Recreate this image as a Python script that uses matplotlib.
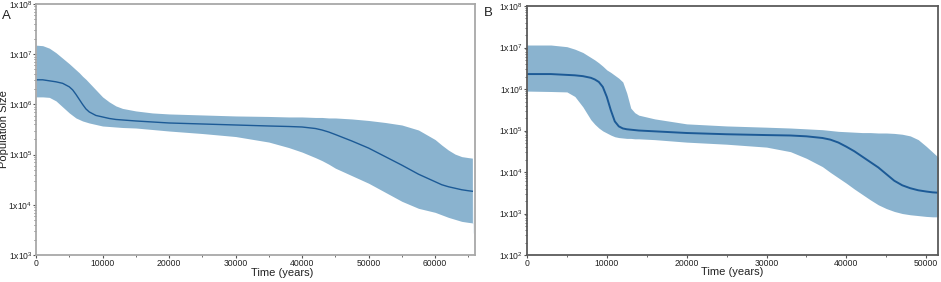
import numpy as np
import matplotlib
matplotlib.use('Agg')
import matplotlib.pyplot as plt
from matplotlib.ticker import LogLocator, MultipleLocator, FuncFormatter, NullFormatter

plt.rcParams['font.family'] = ['Liberation Sans', 'DejaVu Sans']
plt.rcParams['mathtext.fontset'] = 'custom'
plt.rcParams['mathtext.rm'] = 'Liberation Sans'

# panel A: time (years) and log10 population size (median, 95% HPD bounds)
time_a = [0, 1000, 2000, 3000, 4000, 5000, 5500, 6000, 6500, 7000, 7500, 8000, 9000,
          10000, 11000, 12000, 13000, 15000, 17500, 20000, 25000, 30000, 35000,
          38000, 40000, 42000, 43000, 44000, 45000, 47500, 50000, 52500, 55000,
          57500, 60000, 61000, 62000, 63000, 64000, 65000, 65600]
median_a = [6.49, 6.49, 6.47, 6.45, 6.42, 6.35, 6.29, 6.20, 6.10, 6.00, 5.91, 5.85, 5.78,
            5.75, 5.72, 5.70, 5.69, 5.67, 5.65, 5.63, 5.61, 5.59, 5.57,
            5.56, 5.55, 5.52, 5.49, 5.45, 5.40, 5.27, 5.13, 4.96, 4.79,
            4.61, 4.46, 4.40, 4.36, 4.33, 4.30, 4.28, 4.27]
upper_a = [7.18, 7.17, 7.12, 7.03, 6.92, 6.81, 6.75, 6.69, 6.63, 6.56, 6.50, 6.43, 6.29,
           6.15, 6.05, 5.97, 5.92, 5.87, 5.83, 5.81, 5.79, 5.77, 5.76,
           5.75, 5.75, 5.74, 5.74, 5.73, 5.73, 5.71, 5.68, 5.64, 5.59,
           5.49, 5.30, 5.19, 5.09, 5.01, 4.96, 4.94, 4.93]
lower_a = [6.15, 6.15, 6.14, 6.07, 5.95, 5.83, 5.78, 5.73, 5.70, 5.67, 5.65, 5.63, 5.60,
           5.57, 5.56, 5.55, 5.54, 5.53, 5.50, 5.47, 5.42, 5.36, 5.25,
           5.14, 5.05, 4.94, 4.88, 4.81, 4.73, 4.58, 4.43, 4.25, 4.07,
           3.93, 3.85, 3.80, 3.75, 3.71, 3.67, 3.65, 3.64]
# thin tail at the oldest end of panel A
tail_time_a = [65600, 65650, 66100]
tail_upper_a = [4.93, 3.66, 2.9]
tail_lower_a = [3.64, 3.62, 2.9]

# panel B
time_b = [0, 3000, 5000, 6000, 7000, 8000, 8500, 9000, 9500, 10000, 10500, 11000, 11500,
          12000, 12500, 13000, 13500, 14000, 16000, 20000, 25000, 30000, 33000, 35000,
          37000, 38000, 39000, 40000, 41000, 42000, 43000, 44000, 45000, 46000, 47000,
          48000, 49000, 50000, 50800, 51600]
median_b = [6.36, 6.36, 6.34, 6.33, 6.31, 6.27, 6.23, 6.17, 6.05, 5.81, 5.49, 5.22, 5.10,
            5.05, 5.03, 5.02, 5.01, 5.00, 4.98, 4.94, 4.91, 4.89, 4.88, 4.86,
            4.82, 4.78, 4.71, 4.61, 4.50, 4.37, 4.24, 4.11, 3.95, 3.79, 3.68,
            3.61, 3.56, 3.53, 3.51, 3.50]
upper_b = [7.06, 7.06, 7.02, 6.96, 6.88, 6.76, 6.70, 6.63, 6.55, 6.46, 6.40, 6.33, 6.26,
           6.17, 5.90, 5.54, 5.43, 5.37, 5.28, 5.16, 5.11, 5.08, 5.06, 5.04,
           5.02, 5.00, 4.98, 4.97, 4.96, 4.95, 4.95, 4.94, 4.94, 4.93, 4.91,
           4.87, 4.78, 4.62, 4.48, 4.34]
lower_b = [5.95, 5.94, 5.93, 5.82, 5.57, 5.26, 5.15, 5.06, 4.99, 4.94, 4.89, 4.85, 4.83,
           4.82, 4.81, 4.81, 4.80, 4.80, 4.78, 4.72, 4.67, 4.60, 4.49, 4.33,
           4.13, 3.99, 3.86, 3.73, 3.59, 3.46, 3.33, 3.21, 3.12, 3.05, 3.00,
           2.97, 2.95, 2.93, 2.92, 2.92]

FILL = '#8ab3cf'
LINE = '#1c5a96'


def sci_label(v, pos):
    e = int(round(np.log10(v)))
    return r'1x10$^{%d}$' % e


def style_ax(ax, spine_color, ymin, xmax):
    ax.set_yscale('log')
    ax.set_ylim(10.0 ** ymin, 1e8)
    ax.set_xlim(0, xmax)
    ax.yaxis.set_major_locator(LogLocator(base=10, numticks=12))
    ax.yaxis.set_minor_locator(LogLocator(base=10, subs=np.arange(2, 10), numticks=12))
    ax.yaxis.set_major_formatter(FuncFormatter(sci_label))
    ax.yaxis.set_minor_formatter(NullFormatter())
    ax.xaxis.set_major_locator(MultipleLocator(10000))
    ax.xaxis.set_minor_locator(MultipleLocator(5000))
    for sp in ax.spines.values():
        sp.set_color(spine_color)
        sp.set_linewidth(1.3)
    ax.tick_params(axis='both', which='major', labelsize=6.2, length=2,
                   width=0.8, color='#555555', labelcolor='#222222', pad=0.6)
    ax.tick_params(axis='both', which='minor', length=1.5, width=0.6, color='#555555')
    ax.set_xlabel('Time (years)', fontsize=8, labelpad=0, color='#222222')


fig = plt.figure(figsize=(9.41, 2.82), dpi=100)
ax_a = fig.add_axes([0.0383, 0.0957, 0.4665, 0.8901])
ax_b = fig.add_axes([0.5600, 0.0957, 0.4370, 0.8830])

# panel A
ax_a.fill_between(time_a, [10 ** v for v in lower_a], [10 ** v for v in upper_a],
                  color=FILL, linewidth=0)
ax_a.fill_between(tail_time_a, [10 ** v for v in tail_lower_a], [10 ** v for v in tail_upper_a],
                  color=FILL, linewidth=0)
ax_a.plot(time_a, [10 ** v for v in median_a], color=LINE, linewidth=1.0)
style_ax(ax_a, '#a8a8a8', 3, 66000)
ax_a.xaxis.set_label_coords(0.56, -0.050)
ax_a.set_ylabel('Population Size', fontsize=8, color='#222222')
ax_a.yaxis.set_label_coords(-0.061, 0.5)
fig.text(0.002, 0.945, 'A', fontsize=9.5, color='#222222', ha='left', va='center')

# panel B
ax_b.fill_between(time_b, [10 ** v for v in lower_b], [10 ** v for v in upper_b],
                  color=FILL, linewidth=0)
ax_b.plot(time_b, [10 ** v for v in median_b], color=LINE, linewidth=1.4)
style_ax(ax_b, '#5a5a5a', 2, 51500)
ax_b.xaxis.set_label_coords(0.5, -0.050)
fig.text(0.514, 0.955, 'B', fontsize=9.5, color='#222222', ha='left', va='center')

fig.savefig('out.png', dpi=100, facecolor='white')
